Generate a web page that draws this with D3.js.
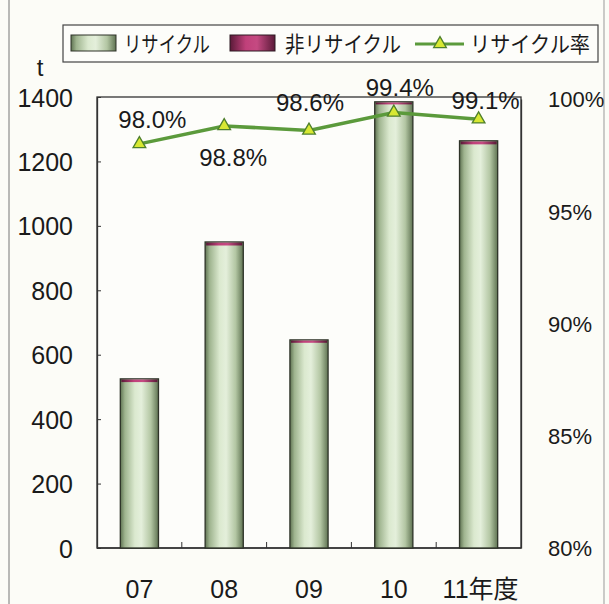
<!DOCTYPE html>
<html>
<head>
<meta charset="utf-8">
<script src="https://cdn.jsdelivr.net/npm/d3@7"></script>
<style>
  html, body { margin: 0; padding: 0; background: #fcfcf7; }
  svg { display: block; }
  text { font-family: "Liberation Sans", Arial, "Noto Sans CJK JP", sans-serif; fill: #1a1a1a; }
</style>
</head>
<body>
<svg id="chart" width="609" height="604"></svg>
<script>
// Fiscal years and tonnage (t)
const years = ["07", "08", "09", "10", "11"];
const recycled = [515, 939, 637, 1377, 1253];
const nonRecycled = [10, 11, 9, 8, 11];
// Recycling rate (%)
const rates = [98.0, 98.8, 98.6, 99.4, 99.1];
const rateLabels = ["98.0%", "98.8%", "98.6%", "99.4%", "99.1%"];
const leftTicks = [0, 200, 400, 600, 800, 1000, 1200, 1400];
const rightTicks = [80, 85, 90, 95, 100];

const svg = d3.select("#chart");
const plot = { left: 97, right: 521, top: 97, bottom: 548 };

const x = d3.scaleBand().domain(years).range([plot.left, plot.right]).paddingInner(0.55).paddingOuter(0.275);
const xBand = d3.scaleBand().domain(years).range([plot.left, plot.right]);
const yL = d3.scaleLinear().domain([0, 1400]).range([plot.bottom, plot.top]);
const yR = d3.scaleLinear().domain([80, 100]).range([plot.bottom, plot.top + 2]);

// Gradients for the cylinder-like bars
const defs = svg.append("defs");
function cylGrad(id, stops) {
  const g = defs.append("linearGradient").attr("id", id).attr("x1", "0%").attr("x2", "100%").attr("y1", "0%").attr("y2", "0%");
  stops.forEach(([o, c]) => g.append("stop").attr("offset", o).attr("stop-color", c));
}
cylGrad("gRec", [["0%", "#5f7352"], ["12%", "#9fb48f"], ["38%", "#dbe9cf"], ["55%", "#e4efdb"], ["80%", "#b3c6a3"], ["100%", "#5f7352"]]);
cylGrad("gNon", [["0%", "#5a1a38"], ["35%", "#c0407a"], ["60%", "#c54a82"], ["100%", "#5a1a38"]]);

// Page frame
svg.append("line").attr("x1", 9).attr("x2", 9).attr("y1", 0).attr("y2", 604).attr("stroke", "#777").attr("stroke-width", 1);
svg.append("line").attr("x1", 604).attr("x2", 604).attr("y1", 0).attr("y2", 604).attr("stroke", "#999").attr("stroke-width", 1);

// Plot frame
svg.append("rect").attr("x", plot.left).attr("y", plot.top)
  .attr("width", plot.right - plot.left).attr("height", plot.bottom - plot.top)
  .attr("fill", "#fdfdfa").attr("stroke", "#333").attr("stroke-width", 1.3);

// Left axis
const gL = svg.append("g").attr("transform", `translate(${plot.left},0)`)
  .call(d3.axisLeft(yL).tickValues(leftTicks).tickFormat(d3.format("d")).tickSizeInner(-4).tickSizeOuter(0).tickPadding(24));
gL.select(".domain").attr("stroke", "#333").attr("stroke-width", 1.3);
gL.selectAll(".tick line").attr("stroke", "#333");
gL.selectAll(".tick text").style("font-size", "25px").attr("fill", "#1a1a1a").attr("dy", "0.36em");

// Right axis
const gR = svg.append("g").attr("transform", `translate(${plot.right},0)`)
  .call(d3.axisRight(yR).tickValues(rightTicks).tickFormat(d => d + "%").tickSizeInner(0).tickSizeOuter(0).tickPadding(27));
gR.select(".domain").attr("stroke", "#333").attr("stroke-width", 1.3);
gR.selectAll(".tick text").style("font-size", "22px").attr("fill", "#1a1a1a").attr("dy", "0.36em");

// Bottom axis: inner ticks between categories
const gB = svg.append("g");
years.slice(1).forEach(d => {
  gB.append("line").attr("x1", xBand(d)).attr("x2", xBand(d))
    .attr("y1", plot.bottom).attr("y2", plot.bottom - 6).attr("stroke", "#333");
});
svg.append("line").attr("x1", plot.left).attr("x2", plot.right).attr("y1", plot.bottom).attr("y2", plot.bottom)
  .attr("stroke", "#333").attr("stroke-width", 1.3);
const xLabels = years.map((d, i) => i === years.length - 1 ? d + "年度" : d);
svg.selectAll(".xl").data(years).enter().append("text")
  .attr("x", (d, i) => x(d) + x.bandwidth() / 2 + (i === years.length - 1 ? 2 : 0))
  .attr("y", 598).attr("text-anchor", "middle").style("font-size", "25px")
  .text((d, i) => xLabels[i]);

// Unit label
svg.append("text").attr("x", 40).attr("y", 76).attr("text-anchor", "middle").style("font-size", "24px").text("t");

// Stacked bars
const bars = svg.append("g");
years.forEach((d, i) => {
  const bx = x(d), bw = x.bandwidth();
  bars.append("rect").attr("x", bx).attr("width", bw)
    .attr("y", yL(recycled[i] + nonRecycled[i])).attr("height", yL(0) - yL(recycled[i] + nonRecycled[i]))
    .attr("fill", "url(#gRec)").attr("stroke", "#2e3328").attr("stroke-width", 1.3);
  bars.append("rect").attr("x", bx + 1).attr("width", bw - 2)
    .attr("y", yL(recycled[i] + nonRecycled[i]) + 0.7).attr("height", yL(recycled[i]) - yL(recycled[i] + nonRecycled[i]) - 0.7)
    .attr("fill", "url(#gNon)");
});

// Rate line
const cx = d => x(d) + x.bandwidth() / 2;
const line = d3.line().x((d, i) => cx(years[i])).y(d => yR(d));
svg.append("path").datum(rates).attr("d", line)
  .attr("fill", "none").attr("stroke", "#5b9a3b").attr("stroke-width", 3.5);
const tri = d3.symbol().type(d3.symbolTriangle).size(70);
svg.selectAll(".mk").data(rates).enter().append("path")
  .attr("d", tri).attr("transform", (d, i) => `translate(${cx(years[i])},${yR(d)})`)
  .attr("fill", "#d7e832").attr("stroke", "#4e7f2c").attr("stroke-width", 1.3);

// Rate labels
const labelOffsets = [[13, -16], [9, 40], [1, -19], [6, -16], [7, -10]];
svg.selectAll(".rl").data(rates).enter().append("text")
  .attr("x", (d, i) => cx(years[i]) + labelOffsets[i][0])
  .attr("y", (d, i) => yR(d) + labelOffsets[i][1])
  .attr("text-anchor", "middle").style("font-size", "24px")
  .text((d, i) => rateLabels[i]);

// Legend
const lg = svg.append("g");
lg.append("rect").attr("x", 63).attr("y", 25).attr("width", 535).attr("height", 37)
  .attr("fill", "#fdfdfa").attr("stroke", "#444").attr("stroke-width", 1.2);
lg.append("rect").attr("x", 71).attr("y", 35).attr("width", 45).attr("height", 16)
  .attr("fill", "url(#gRec)").attr("stroke", "#2e3328");
lg.append("text").attr("x", 124).attr("y", 52).style("font-size", "22px")
  .attr("textLength", 86).attr("lengthAdjust", "spacingAndGlyphs").text("リサイクル");
lg.append("rect").attr("x", 230).attr("y", 35).attr("width", 45).attr("height", 16)
  .attr("fill", "url(#gNon)").attr("stroke", "#2e1a22");
lg.append("text").attr("x", 285).attr("y", 52).style("font-size", "22px")
  .attr("textLength", 116).attr("lengthAdjust", "spacingAndGlyphs").text("非リサイクル");
lg.append("line").attr("x1", 415).attr("x2", 464).attr("y1", 44).attr("y2", 44)
  .attr("stroke", "#5b9a3b").attr("stroke-width", 3);
lg.append("path").attr("d", tri).attr("transform", "translate(440,44)")
  .attr("fill", "#d7e832").attr("stroke", "#4e7f2c").attr("stroke-width", 1.3);
lg.append("text").attr("x", 470).attr("y", 52).style("font-size", "22px")
  .attr("textLength", 120).attr("lengthAdjust", "spacingAndGlyphs").text("リサイクル率");
</script>
</body>
</html>
